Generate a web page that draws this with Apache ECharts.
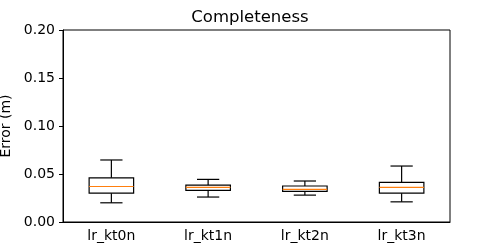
<!DOCTYPE html>
<html>
<head>
<meta charset="utf-8">
<script src="https://cdn.jsdelivr.net/npm/echarts@6/dist/echarts.min.js"></script>
<style>html,body{margin:0;padding:0;background:#fff}#c{width:500px;height:250px}</style>
</head>
<body>
<div id="c"></div>
<script>
const categories = ['lr_kt0n', 'lr_kt1n', 'lr_kt2n', 'lr_kt3n'];
const whiskerLow = [0.020, 0.026, 0.028, 0.021];
const q1 = [0.030, 0.033, 0.032, 0.030];
const median = [0.037, 0.036, 0.034, 0.036];
const q3 = [0.046, 0.0385, 0.0375, 0.0413];
const whiskerHigh = [0.0646, 0.0444, 0.0427, 0.0583];
const yTicks = [0, 0.05, 0.10, 0.15, 0.20];

const data = categories.map((c, i) => [i, whiskerLow[i], q1[i], median[i], q3[i], whiskerHigh[i]]);

const chart = echarts.init(document.getElementById('c'), null, {renderer: 'canvas'});
const font = 'DejaVu Sans';
chart.setOption({
  animation: false,
  backgroundColor: '#fff',
  title: {
    text: 'Completeness', left: 'center', top: 4,
    textStyle: {fontFamily: font, fontSize: 16.5, fontWeight: 'normal', color: '#000'}
  },
  grid: {left: 63, right: 50, top: 30, bottom: 28, show: true, borderColor: '#000', borderWidth: 1, outerBoundsMode: 'none', containLabel: false},
  xAxis: {
    type: 'category', data: categories, boundaryGap: true,
    axisLine: {lineStyle: {color: '#000', width: 1}},
    axisTick: {alignWithLabel: true, length: 4, lineStyle: {color: '#000'}},
    axisLabel: {fontFamily: font, fontSize: 14, color: '#000', margin: 7},
    splitLine: {show: false}
  },
  yAxis: {
    type: 'value', min: yTicks[0], max: yTicks[yTicks.length - 1], interval: 0.05,
    name: 'Error (m)', nameLocation: 'middle', nameGap: 43,
    nameTextStyle: {fontFamily: font, fontSize: 14, color: '#000'},
    axisLine: {show: true, lineStyle: {color: '#000', width: 1}},
    axisTick: {show: true, length: 4, lineStyle: {color: '#000'}},
    axisLabel: {fontFamily: font, fontSize: 14, color: '#000', margin: 8, formatter: v => v.toFixed(2)},
    splitLine: {show: false}
  },
  series: [{
    type: 'custom',
    data: data,
    encode: {x: 0, y: [1, 2, 3, 4, 5]},
    renderItem: function (params, api) {
      const i = api.value(0);
      const band = api.size([1, 0])[0];
      const bw = band * 0.46;
      const cw = bw / 2;
      const pLow = api.coord([i, api.value(1)]);
      const pQ1 = api.coord([i, api.value(2)]);
      const pMed = api.coord([i, api.value(3)]);
      const pQ3 = api.coord([i, api.value(4)]);
      const pHigh = api.coord([i, api.value(5)]);
      const x = pMed[0];
      const ls = {stroke: '#000', lineWidth: 1.2, fill: null};
      return {
        type: 'group',
        children: [
          {type: 'line', shape: {x1: x, y1: pQ3[1], x2: x, y2: pHigh[1]}, style: ls},
          {type: 'line', shape: {x1: x, y1: pQ1[1], x2: x, y2: pLow[1]}, style: ls},
          {type: 'line', shape: {x1: x - cw / 2, y1: pHigh[1], x2: x + cw / 2, y2: pHigh[1]}, style: ls},
          {type: 'line', shape: {x1: x - cw / 2, y1: pLow[1], x2: x + cw / 2, y2: pLow[1]}, style: ls},
          {type: 'rect', shape: {x: x - bw / 2, y: pQ3[1], width: bw, height: pQ1[1] - pQ3[1]}, style: {stroke: '#000', lineWidth: 1.2, fill: 'none'}},
          {type: 'line', shape: {x1: x - bw / 2, y1: pMed[1], x2: x + bw / 2, y2: pMed[1]}, style: {stroke: '#ff7f0e', lineWidth: 1.2}}
        ]
      };
    }
  }]
});
</script>
</body>
</html>
